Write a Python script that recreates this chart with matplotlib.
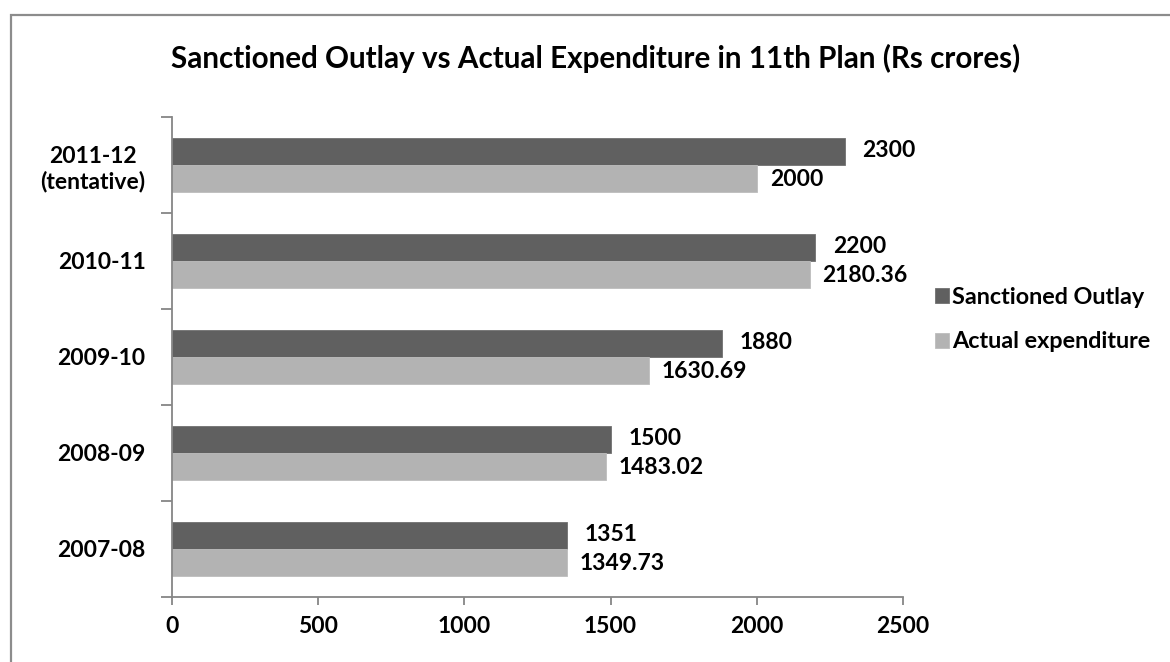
import matplotlib.pyplot as plt
from matplotlib.patches import Rectangle
import numpy as np

plt.rcParams['font.family'] = ['Lato', 'DejaVu Sans']
plt.rcParams['font.weight'] = 'bold'

# data (bottom to top)
years = ["2007-08", "2008-09", "2009-10", "2010-11", "2011-12\n(tentative)"]
sanctioned = [1351, 1500, 1880, 2200, 2300]
actual = [1349.73, 1483.02, 1630.69, 2180.36, 2000]
sanct_labels = ["1351", "1500", "1880", "2200", "2300"]
actual_labels = ["1349.73", "1483.02", "1630.69", "2180.36", "2000"]

dark = "#606060"
light = "#b3b3b3"
axis_col = "#868686"
fs = 16.5

fig = plt.figure(figsize=(11.7, 6.62), dpi=100)
ax = fig.add_axes([0.147, 0.0982, 0.6248, 0.7251])

y = np.arange(len(years))
h = 0.28
b1 = ax.barh(y + h / 2, sanctioned, height=h, color=dark, edgecolor="#707070", linewidth=0.6,
             label="Sanctioned Outlay")
b2 = ax.barh(y - h / 2, actual, height=h, color=light, edgecolor="#bdbdbd", linewidth=0.6,
             label="Actual expenditure")

# value labels
for i in range(len(years)):
    ax.annotate(sanct_labels[i], (sanctioned[i], y[i] + h / 2), xytext=(18, 1),
                textcoords="offset pixels", va="center", ha="left", fontsize=fs)
    ax.annotate(actual_labels[i], (actual[i], y[i] - h / 2), xytext=(13, -1),
                textcoords="offset pixels", va="center", ha="left", fontsize=fs)

ax.set_xlim(0, 2500)
ax.set_ylim(-0.5, len(years) - 0.5)
ax.set_xticks([0, 500, 1000, 1500, 2000, 2500])
ax.set_yticks(y)
ax.set_yticklabels(years, multialignment="center")
ax.set_yticks(np.arange(-0.5, len(years)), minor=True)
ax.tick_params(axis="y", which="major", length=0, pad=19, labelsize=fs)
ax.tick_params(axis="y", which="minor", length=8, width=1.3, color=axis_col)
ax.tick_params(axis="x", length=6, width=1.3, color=axis_col, pad=8, labelsize=fs)

for s in ["top", "right"]:
    ax.spines[s].set_visible(False)
for s in ["left", "bottom"]:
    ax.spines[s].set_color(axis_col)
    ax.spines[s].set_linewidth(1.3)

fig.text(0.509, 0.912, "Sanctioned Outlay vs Actual Expenditure in 11th Plan (Rs crores)",
         ha="center", va="center", fontsize=21.3, fontweight="bold")

ax.legend(handles=[b1, b2], loc="center left", bbox_to_anchor=(0.799, 0.517),
          bbox_transform=fig.transFigure, frameon=False, handlelength=0.6,
          handleheight=0.6, handletextpad=0.15, labelspacing=1.0, borderpad=0,
          borderaxespad=0, prop={"size": 16.8, "weight": "bold"})

# outer chart border (cropped at right and bottom)
fig.add_artist(Rectangle((0.0094, -0.1), 1.2, 1.0773, transform=fig.transFigure,
                         fill=False, edgecolor="#8c8c8c", linewidth=1.6, clip_on=False))

fig.savefig("out.png", dpi=100)
